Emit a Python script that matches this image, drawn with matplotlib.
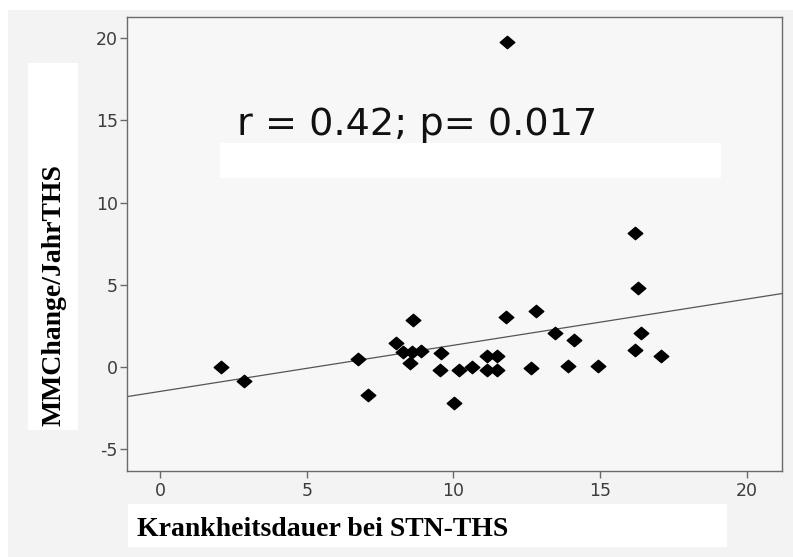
import numpy as np
import matplotlib
matplotlib.use("Agg")
import matplotlib.pyplot as plt
from matplotlib.patches import Rectangle
from matplotlib.path import Path

plt.rcParams["axes.unicode_minus"] = False

# Data (duration in years vs. change per year)
dauer = [2.08, 2.87, 6.76, 7.10,
         8.63, 8.04, 8.29, 8.58, 8.88, 8.52, 9.57, 9.54, 10.20, 10.64,
         10.02, 11.15, 11.49, 11.15, 11.49, 11.79, 12.81, 12.63, 13.46,
         16.18, 16.30, 14.10, 16.38, 16.18, 17.06, 13.91, 14.93,
         11.81]
mm_change = [0.00, -0.85, 0.47, -1.69,
             2.87, 1.48, 0.89, 0.89, 0.99, 0.22, 0.83, -0.22, -0.22, 0.02,
             -2.17, 0.69, 0.69, -0.18, -0.18, 3.01, 3.43, -0.08, 2.09,
             8.15, 4.80, 1.65, 2.05, 1.04, 0.69, 0.06, 0.06,
             19.78]
x_ticks = [0, 5, 10, 15, 20]
y_ticks = [-5, 0, 5, 10, 15, 20]
stat_text = "r = 0.42; p= 0.017"
x_label = "Krankheitsdauer bei STN-THS"
y_label = "MMChange/JahrTHS"

W, H = 793, 557
fig = plt.figure(figsize=(W / 100, H / 100), dpi=100)
fig.patch.set_facecolor("white")

def fx(px):
    return px / W

def fy(py):
    return 1 - py / H

# light grey backdrop of the pasted SPSS output
fig.patches.append(Rectangle((fx(8), 0), 1 - fx(8), fy(10), transform=fig.transFigure,
                             facecolor="#f3f3f3", edgecolor="none", zorder=-5))

ax = fig.add_axes([fx(127), fy(471), fx(782) - fx(127), fy(17) - fy(471)])
ax.set_facecolor("#f7f7f7")
for s in ax.spines.values():
    s.set_color("#6a6a6a")
    s.set_linewidth(1.0)

x = np.array(dauer)
y = np.array(mm_change)

# squashed diamond marker like SPSS
diamond = Path([(-1, 0), (0, 0.85), (1, 0), (0, -0.85), (-1, 0)],
               [Path.MOVETO, Path.LINETO, Path.LINETO, Path.LINETO, Path.CLOSEPOLY])
ax.plot(x, y, linestyle="none", marker=diamond, markersize=10.5,
        color="black", zorder=3)

ax.set_xlim(-1.13, 21.2)
ax.set_ylim(-6.34, 21.3)

# linear fit line across the full x range
slope, icpt = np.polyfit(x, y, 1)
xl = np.array(ax.get_xlim())
ax.plot(xl, icpt + slope * xl, color="#555555", linewidth=0.9, zorder=2)

ax.set_xticks(x_ticks)
ax.set_yticks(y_ticks)
ax.tick_params(axis="both", direction="out", length=5, width=1.0, color="#6a6a6a",
               labelsize=12.5, labelcolor="#3c3c3c")
ax.tick_params(axis="y", pad=1.5)
ax.tick_params(axis="x", pad=3)

# white patch with the correlation text above it
fig.patches.append(Rectangle((fx(220), fy(178)), fx(721) - fx(220), fy(143) - fy(178),
                             transform=fig.transFigure, facecolor="white",
                             edgecolor="none", zorder=1))
fig.text(fx(237), fy(135), stat_text, fontsize=27.5, family="DejaVu Sans",
         color="#111111", ha="left", va="baseline", zorder=2)

# axis titles on white boxes
fig.patches.append(Rectangle((fx(28), fy(430)), fx(78) - fx(28), fy(63) - fy(430),
                             transform=fig.transFigure, facecolor="white",
                             edgecolor="none", zorder=1))
fig.text(fx(54), fy(295), y_label, rotation=90, fontsize=20, fontweight="bold",
         family="Liberation Serif", ha="center", va="center", zorder=2)

fig.patches.append(Rectangle((fx(128), fy(547)), fx(727) - fx(128), fy(504) - fy(547),
                             transform=fig.transFigure, facecolor="white",
                             edgecolor="none", zorder=1))
fig.text(fx(137), fy(536), x_label, fontsize=20, fontweight="bold",
         family="Liberation Serif", ha="left", va="baseline", zorder=2)

fig.savefig("out.png", dpi=100, facecolor=fig.get_facecolor())
